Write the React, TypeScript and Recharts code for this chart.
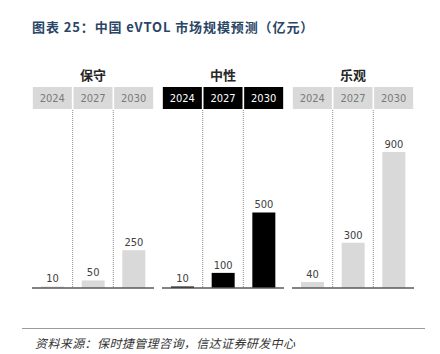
import { BarChart, Bar, XAxis, YAxis, CartesianGrid, ReferenceLine, LabelList } from "recharts";

const years = ["2024", "2027", "2030"];
const scenarios = ["保守", "中性", "乐观"];
const conservative = [10, 50, 250];
const neutral = [10, 100, 500];
const optimistic = [40, 300, 900];

const numFont = '"Liberation Sans Narrow", "DejaVu Sans Condensed", "Open Sans", sans-serif';
const cjkFont = '"Noto Sans CJK SC", sans-serif';

const panels = [
  { name: scenarios[0], values: conservative, dark: false, left: 32 },
  { name: scenarios[1], values: neutral, dark: true, left: 162 },
  { name: scenarios[2], values: optimistic, dark: false, left: 292 },
];

const CHART_W = 122;
const HEADER_H = 23;

function HeaderTick({ x, payload, dark }: any) {
  return (
    <g>
      <rect x={x - 19.5} y={0} width={39} height={22} fill={dark ? "#000" : "#d9d9d9"} />
      <text
        x={x}
        y={15}
        textAnchor="middle"
        fontSize={11}
        fontFamily={numFont}
        fill={dark ? "#fff" : "#7a7a7a"}
      >
        {payload.value}
      </text>
    </g>
  );
}

function Panel({ values, dark }: { values: number[]; dark: boolean }) {
  const data = years.map((y, i) => ({ year: y, value: values[i] }));
  return (
    <BarChart width={CHART_W} height={HEADER_H + 180} data={data} margin={{ top: 0, right: 0, bottom: 2, left: 0 }}>
      <CartesianGrid
        horizontal={false}
        stroke="#8c8c8c"
        strokeDasharray="1 1"
        verticalCoordinatesGenerator={({ offset }: any) => [
          offset.left + offset.width / 3,
          offset.left + (offset.width * 2) / 3,
        ]}
      />
      <XAxis
        dataKey="year"
        orientation="top"
        height={HEADER_H}
        axisLine={false}
        tickLine={false}
        tickSize={0}
        interval={0}
        tick={(p: any) => <HeaderTick {...p} dark={dark} />}
      />
      <YAxis hide domain={[0, 1178]} />
      <Bar dataKey="value" fill={dark ? "#000" : "#d9d9d9"} barSize={23} isAnimationActive={false}>
        <LabelList dataKey="value" position="top" offset={4} fontSize={11} fontFamily={numFont} fill="#404040" />
      </Bar>
      <ReferenceLine y={0} stroke="#595959" strokeWidth={1.5} />
    </BarChart>
  );
}

export default function App() {
  return (
    <div style={{ position: "absolute", left: 0, top: 0, width: 440, height: 354, background: "#fff", fontFamily: cjkFont }}>
      <div
        style={{
          position: "absolute",
          left: 32,
          top: 20,
          fontSize: 13,
          lineHeight: "14px",
          fontWeight: "bold",
          color: "#2a4566",
          letterSpacing: 0.9,
          whiteSpace: "nowrap",
        }}
      >
        图表 25：中国 eVTOL 市场规模预测（亿元）
      </div>
      {panels.map((p) => (
        <div key={p.name}>
          <div
            style={{
              position: "absolute",
              left: p.left,
              top: 68,
              width: CHART_W,
              textAlign: "center",
              fontSize: 13,
              lineHeight: "14px",
              fontWeight: "bold",
              color: "#262626",
            }}
          >
            {p.name}
          </div>
          <div style={{ position: "absolute", left: p.left, top: 87 }}>
            <Panel values={p.values} dark={p.dark} />
          </div>
        </div>
      ))}
      <div style={{ position: "absolute", left: 22, top: 328, width: 403, height: 1, background: "#9a9a9a" }} />
      <div
        style={{
          position: "absolute",
          left: 35,
          top: 336,
          fontSize: 12,
          lineHeight: "14px",
          fontStyle: "italic",
          color: "#333",
          letterSpacing: 0.4,
          whiteSpace: "nowrap",
        }}
      >
        资料来源：保时捷管理咨询，信达证券研发中心
      </div>
    </div>
  );
}
